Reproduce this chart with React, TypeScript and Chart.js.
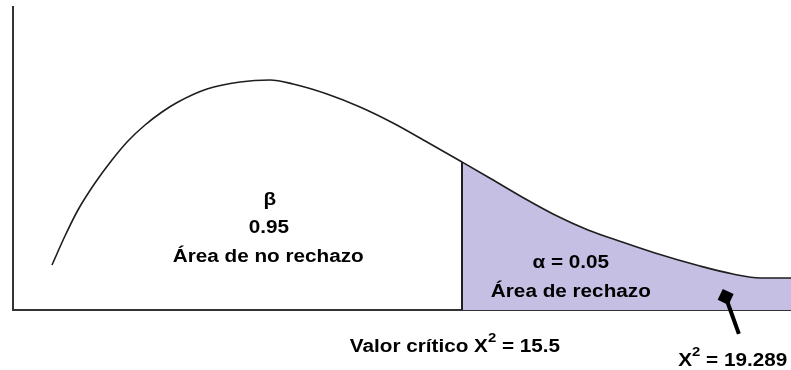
import React, { useEffect, useRef } from "react";
import { Chart, registerables } from "chart.js";

Chart.register(...registerables);

// Curve (schematic chi-square density), in chart units (x: 0..100, y: 0..100)
const curveX = [5.01, 6.68, 8.35, 10.54, 12.72, 14.78, 16.97, 19.15, 21.21, 24.94, 29.18, 33.03, 35.99, 40.36, 44.6, 48.84, 53.21, 57.71, 61.05, 65.42, 69.67, 73.91, 78.28, 82.52, 88.3, 92.54, 96.02, 100];
const curveY = [14.85, 24.42, 33.0, 41.9, 49.5, 55.78, 61.06, 65.35, 68.65, 72.94, 75.25, 75.91, 74.59, 71.29, 67.0, 61.72, 55.45, 48.84, 43.89, 37.29, 31.35, 26.4, 22.44, 18.81, 14.52, 11.88, 10.56, 10.56];
const criticalIndex = 17; // point where the rejection area begins

// Text annotations inside the plot
const labelTexts = ["β", "0.95", "Área de no rechazo", "α = 0.05", "Área de rechazo"];
const labelX = [33.0, 32.9, 32.8, 71.7, 71.7];
const labelY = [34.7, 25.4, 15.8, 13.9, 4.3];

// Labels with superscripts below the axis
const subLabelParts = [
  [{ t: "Valor crítico X" }, { t: "2", sup: true }, { t: " = 15.5" }],
  [{ t: "X" }, { t: "2", sup: true }, { t: " = 19.289" }],
];
const subLabelX = [43.3, 85.5];
const subLabelY = [-13.9, -18.5];

// Arrow pointing to the statistic
const arrowFrom = { x: 93.3, y: -7.9 };
const arrowTo = { x: 91.6, y: 4.3 };

const FONT_FAMILY = '"Liberation Sans", Arial, sans-serif';
const STRETCH = 1.15;

const annotationPlugin = {
  id: "annotations",
  afterDraw(chart: any) {
    const ctx = chart.ctx as CanvasRenderingContext2D;
    const xs = chart.scales.x;
    const ys = chart.scales.y;
    ctx.save();
    ctx.fillStyle = "#000";
    ctx.textBaseline = "alphabetic";
    ctx.textAlign = "left";
    const mainFont = `bold 18px ${FONT_FAMILY}`;
    const supFont = `bold 13px ${FONT_FAMILY}`;

    // centered labels
    ctx.font = mainFont;
    labelTexts.forEach((t, i) => {
      const px = xs.getPixelForValue(labelX[i]);
      const py = ys.getPixelForValue(labelY[i]);
      const w = ctx.measureText(t).width * STRETCH;
      ctx.save();
      ctx.translate(px - w / 2, py);
      ctx.scale(STRETCH, 1);
      ctx.fillText(t, 0, 0);
      ctx.restore();
    });

    // left aligned rich labels
    subLabelParts.forEach((parts, i) => {
      let px = xs.getPixelForValue(subLabelX[i]);
      const py = ys.getPixelForValue(subLabelY[i]);
      parts.forEach((p: any) => {
        ctx.font = p.sup ? supFont : mainFont;
        const w = ctx.measureText(p.t).width * STRETCH;
        ctx.save();
        ctx.translate(px, p.sup ? py - 10 : py);
        ctx.scale(STRETCH, 1);
        ctx.fillText(p.t, 0, 0);
        ctx.restore();
        px += w;
      });
    });

    // arrow
    const x1 = xs.getPixelForValue(arrowFrom.x);
    const y1 = ys.getPixelForValue(arrowFrom.y);
    const x2 = xs.getPixelForValue(arrowTo.x);
    const y2 = ys.getPixelForValue(arrowTo.y);
    ctx.strokeStyle = "#000";
    ctx.lineWidth = 4;
    ctx.beginPath();
    ctx.moveTo(x1, y1);
    ctx.lineTo(x2, y2);
    ctx.stroke();
    const ang = Math.atan2(y2 - y1, x2 - x1);
    ctx.save();
    ctx.translate(x2, y2);
    ctx.rotate(ang + Math.PI / 4);
    ctx.fillRect(-6, -6, 12, 12);
    ctx.restore();

    ctx.restore();
  },
};

export default function App() {
  const canvasRef = useRef<HTMLCanvasElement | null>(null);

  useEffect(() => {
    if (!canvasRef.current) return;
    const curve = curveX.map((x, i) => ({ x, y: curveY[i] }));
    const tail = curve.slice(criticalIndex);
    const cx = curveX[criticalIndex];
    const chart = new Chart(canvasRef.current, {
      type: "line",
      data: {
        datasets: [
          {
            data: curve,
            borderColor: "#1e1e1e",
            borderWidth: 1.6,
            pointRadius: 0,
            fill: false,
            cubicInterpolationMode: "monotone",
          },
          {
            data: [
              { x: cx, y: 0 },
              { x: cx, y: curveY[criticalIndex] },
            ],
            borderColor: "#1e1e1e",
            borderWidth: 2,
            pointRadius: 0,
            fill: false,
          },
          {
            data: tail,
            borderWidth: 0,
            borderColor: "rgba(0,0,0,0)",
            backgroundColor: "rgb(197,191,228)",
            pointRadius: 0,
            fill: "origin",
            cubicInterpolationMode: "monotone",
          },
        ],
      },
      options: {
        responsive: false,
        animation: false,
        devicePixelRatio: 1,
        layout: { padding: { left: 13, top: 7, right: 0, bottom: 60 } },
        plugins: { legend: { display: false }, tooltip: { enabled: false } },
        scales: {
          x: {
            type: "linear",
            min: 0,
            max: 100,
            grid: { display: false, drawTicks: false },
            ticks: { display: false },
            border: { display: true, color: "#333", width: 2 },
          },
          y: {
            type: "linear",
            min: 0,
            max: 100,
            grid: { display: false, drawTicks: false },
            ticks: { display: false },
            border: { display: true, color: "#333", width: 2 },
          },
        },
      },
      plugins: [annotationPlugin],
    });
    return () => chart.destroy();
  }, []);

  return (
    <div style={{ position: "absolute", left: 0, top: 0, width: 791, height: 370, background: "#fff" }}>
      <canvas ref={canvasRef} width={791} height={370} style={{ display: "block" }} />
    </div>
  );
}
